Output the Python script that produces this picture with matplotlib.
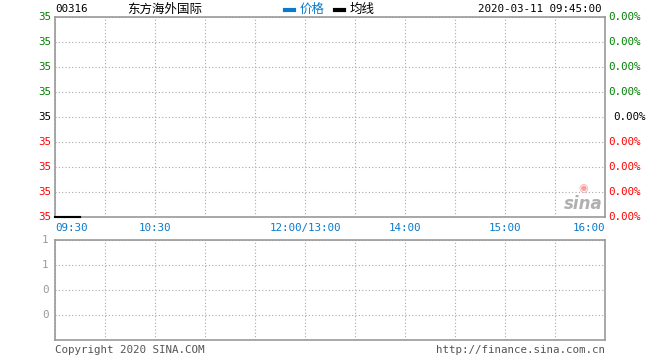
import matplotlib
matplotlib.use("Agg")
import matplotlib.pyplot as plt
from matplotlib.ticker import FixedLocator

# data
code = "00316"
name = "东方海外国际"
stamp = "2020-03-11 09:45:00"
minutes = [0, 1, 2, 3, 4, 5, 6, 7, 8, 9, 10, 11, 12, 13, 14, 15]
price = [35.0, 35.0, 35.0, 35.0, 35.0, 35.0, 35.0, 35.0,
         35.0, 35.0, 35.0, 35.0, 35.0, 35.0, 35.0, 35.0]
avg = [35.0, 35.0, 35.0, 35.0, 35.0, 35.0, 35.0, 35.0,
       35.0, 35.0, 35.0, 35.0, 35.0, 35.0, 35.0, 35.0]
volume = [0, 0, 0, 0, 0, 0, 0, 0, 0, 0, 0, 0, 0, 0, 0, 0]
time_ticks = [0, 60, 150, 210, 270, 330]
time_labels = ["09:30", "10:30", "12:00/13:00", "14:00", "15:00", "16:00"]
prev_close = 35.0
price_lo, price_hi = 35.0, 35.0008
vol_hi = 1.6

W, H = 660, 360
fig = plt.figure(figsize=(6.6, 3.6), dpi=100)
grey = "#999999"
mono = "DejaVu Sans Mono"
cjk = ["Noto Sans CJK SC", "DejaVu Sans"]
blue = "#0a7acc"
fs = 7.8

def frame(ax):
    for s in ax.spines.values():
        s.set_color(grey)
        s.set_linewidth(1.2)
    ax.tick_params(length=0)
    ax.set_xlim(0, 330)
    ax.xaxis.set_major_locator(FixedLocator(list(range(0, 331, 30))))
    ax.grid(True, color="#aaaaaa", linestyle=(0, (1, 2)), linewidth=0.8)

# price panel
ax = fig.add_axes([55 / W, 1 - 217 / H, 550 / W, 200 / H])
frame(ax)
ax.set_ylim(price_lo, price_hi)
yt = [price_lo + i * (price_hi - price_lo) / 8 for i in range(9)]
ax.yaxis.set_major_locator(FixedLocator(yt))
ax.set_yticklabels([])
ax.set_xticklabels([])
ax.plot(minutes, price, color=blue, linewidth=1.5, clip_on=False, zorder=5)
ax.plot(minutes, avg, color="black", linewidth=1.5, clip_on=False, zorder=6)
mid = (price_lo + price_hi) / 2
for v in yt:
    xr = 1.006
    if v > mid + 1e-9:
        c = "#008000"
    elif v < mid - 1e-9:
        c = "#ff0000"
    else:
        c = "black"
        xr = 1.015
    ax.text(-0.007, v, "%.0f" % v, transform=ax.get_yaxis_transform(),
            ha="right", va="center", color=c, fontsize=fs, family=mono)
    pct = (v - prev_close) / prev_close * 100
    ax.text(xr, v, "%.2f%%" % abs(pct), transform=ax.get_yaxis_transform(),
            ha="left", va="center", color=c, fontsize=fs, family=mono)
for t, lab in zip(time_ticks, time_labels):
    ha = "left" if t == 0 else ("right" if t == 330 else "center")
    ax.text(t, -0.03, lab, transform=ax.get_xaxis_transform(), ha=ha, va="top",
            color=blue, fontsize=fs, family=mono)

# sina watermark
ax.text(0.995, 0.02, "sina", transform=ax.transAxes, ha="right", va="bottom",
        color="#b0b0b0", fontsize=12, fontweight="bold", style="italic")
ax.text(0.96, 0.12, "◉", transform=ax.transAxes, ha="center", va="bottom",
        color="#f4a0a0", fontsize=8)

# volume panel
vx = fig.add_axes([55 / W, 1 - 340 / H, 550 / W, 100 / H])
frame(vx)
vx.set_ylim(0, vol_hi)
vt = [vol_hi * i / 4 for i in range(1, 5)]
vx.yaxis.set_major_locator(FixedLocator(vt))
vx.set_yticklabels([])
vx.set_xticklabels([])
vx.bar(minutes, volume, width=0.8, color=blue)
for v in vt:
    vx.text(-0.012, v, "%d" % int(v), transform=vx.get_yaxis_transform(),
            ha="right", va="center", color=grey, fontsize=fs, family=mono)

# header
fig.text(55 / W, 1 - 9 / H, code, ha="left", va="center", fontsize=fs, family=mono)
fig.text(165 / W, 1 - 9 / H, name, ha="center", va="center", fontsize=9, family=cjk)
fig.add_artist(plt.Line2D([285 / W, 294 / W], [1 - 10 / H] * 2, color=blue, linewidth=3))
fig.text(300 / W, 1 - 9 / H, "价格", ha="left", va="center", fontsize=9, family=cjk, color=blue)
fig.add_artist(plt.Line2D([335 / W, 344 / W], [1 - 10 / H] * 2, color="black", linewidth=3))
fig.text(350 / W, 1 - 9 / H, "均线", ha="left", va="center", fontsize=9, family=cjk)
fig.text(602 / W, 1 - 9 / H, stamp, ha="right", va="center", fontsize=fs, family=mono)

# footer
fig.text(55 / W, 1 - 350 / H, "Copyright 2020 SINA.COM", ha="left", va="center",
         fontsize=fs, family=mono, color="#555555")
fig.text(605 / W, 1 - 350 / H, "http://finance.sina.com.cn", ha="right", va="center",
         fontsize=fs, family=mono, color="#555555")

fig.savefig("out.png", dpi=100, facecolor="white")
